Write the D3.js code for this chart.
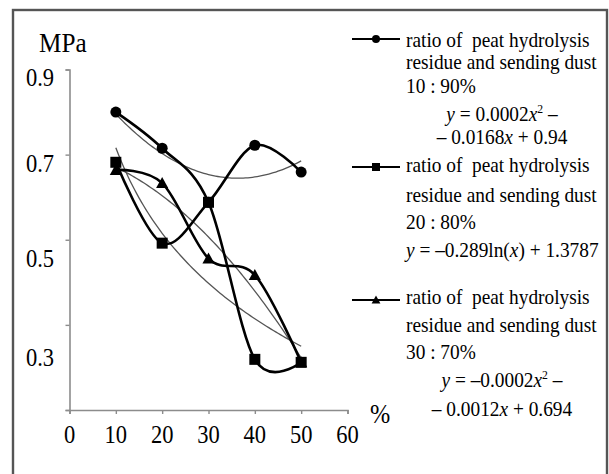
<!DOCTYPE html>
<html>
<head>
<meta charset="utf-8">
<script src="https://cdn.jsdelivr.net/npm/d3@7"></script>
<style>
  html, body { margin: 0; padding: 0; background: #fff; }
</style>
</head>
<body>
<svg id="chart" width="609" height="474"></svg>
<script>
// Share of peat hydrolysis residue in the mix, %
const percent = [10, 20, 30, 40, 50];

// Strength, MPa, for each residue : sending dust ratio
const ratio10to90 = [0.800, 0.715, 0.588, 0.722, 0.659];
const ratio20to80 = [0.682, 0.492, 0.588, 0.219, 0.212];
const ratio30to70 = [0.664, 0.633, 0.456, 0.417, 0.212];

const seriesValues = [ratio10to90, ratio20to80, ratio30to70];
const seriesMarkers = ["circle", "square", "triangle"];

// The 10:90 and 20:80 curves meet at 30 % and carry on to each other's points
const curveRoutes = [
  [0, 0, 0, 1, 1],
  [1, 1, 1, 0, 0],
  [2, 2, 2, 2, 2]
];

const yTicks = [0.1, 0.3, 0.5, 0.7, 0.9];
const yTickLabels = ["0.9", "0.7", "0.5", "0.3"];
const xTicks = [0, 10, 20, 30, 40, 50, 60];

const legendTitles = [
  ["ratio of  peat hydrolysis", "residue and sending dust", "10 : 90%"],
  ["ratio of  peat hydrolysis", "residue and sending dust", "20 : 80%"],
  ["ratio of  peat hydrolysis", "residue and sending dust", "30 : 70%"]
];
// Trend equations; "i" = italic, "s" = superscript
const legendEquations = [
  [[["y", "i"], [" = 0.0002"], ["x", "i"], ["2", "s"], [" –"]],
   [["– 0.0168"], ["x", "i"], [" + 0.94"]]],
  [[["y", "i"], [" = –0.289ln("], ["x", "i"], [") + 1.3787"]]],
  [[["y", "i"], [" = –0.0002"], ["x", "i"], ["2", "s"], [" –"]],
   [["– 0.0012"], ["x", "i"], [" + 0.694"]]]
];

const FONT = "'Liberation Serif', 'Times New Roman', serif";
const NARROW = 0.9; // horizontal squeeze of the serif type
const svg = d3.select("#chart");

// frame
svg.append("rect")
  .attr("x", 13).attr("y", 10).attr("width", 594).attr("height", 520)
  .attr("fill", "none").attr("stroke", "#555").attr("stroke-width", 2.4);

const x = d3.scaleLinear().domain([0, 60]).range([69.5, 347.5]);
const y = d3.scaleLinear().domain([0.1, 0.9]).range([410, 69.5]);

// axes
const axisColor = "#8c8c8c";
const gx = svg.append("g").attr("transform", `translate(0,${y(0.1)})`)
  .call(d3.axisBottom(x).tickValues(xTicks).tickSize(4).tickFormat(""));
const gy = svg.append("g").attr("transform", `translate(${x(0)},0)`)
  .call(d3.axisLeft(y).tickValues(yTicks).tickSize(4).tickFormat(""));
[gx, gy].forEach(g => {
  g.select(".domain").attr("stroke", axisColor).attr("stroke-width", 1.6);
  g.selectAll(".tick line").attr("stroke", axisColor).attr("stroke-width", 1.4);
});

// text placed at (tx, ty) with narrowed glyphs
function addText(parent, tx, ty, size, anchor) {
  return parent.append("text")
    .attr("transform", `translate(${tx},${ty}) scale(${NARROW},1)`)
    .attr("font-family", FONT).attr("font-size", size)
    .attr("text-anchor", anchor || "start")
    .attr("fill", "#000").style("white-space", "pre");
}

const xLab = svg.append("g");
xTicks.forEach(d => addText(xLab, x(d), 443, 25, "middle").text(d));

// tick labels sit on their own, slightly stretched scale
const labelY = d3.scalePow().exponent(1.075).domain([0, 0.6]).range([86, 366]);
const yLab = svg.append("g");
yTickLabels.forEach(d => addText(yLab, 54, labelY(0.9 - +d), 25, "end").text(d));

addText(svg, 39, 52, 28).text("MPa");
addText(svg, 380, 423, 27, "middle").text("%");

// least-squares trend fits
function quadFit(xs, ys) {
  const n = xs.length;
  const S = k => d3.sum(xs, v => Math.pow(v, k));
  const T = k => d3.sum(xs, (v, i) => Math.pow(v, k) * ys[i]);
  const A = [[n, S(1), S(2)], [S(1), S(2), S(3)], [S(2), S(3), S(4)]];
  const b = [T(0), T(1), T(2)];
  for (let c = 0; c < 3; c++) {
    for (let r = c + 1; r < 3; r++) {
      const f = A[r][c] / A[c][c];
      for (let k = c; k < 3; k++) A[r][k] -= f * A[c][k];
      b[r] -= f * b[c];
    }
  }
  const coef = [0, 0, 0];
  for (let r = 2; r >= 0; r--) {
    let s = b[r];
    for (let k = r + 1; k < 3; k++) s -= A[r][k] * coef[k];
    coef[r] = s / A[r][r];
  }
  return v => coef[0] + coef[1] * v + coef[2] * v * v;
}
function logFit(xs, ys) {
  const lx = xs.map(Math.log);
  const mx = d3.mean(lx), my = d3.mean(ys);
  const slope = d3.sum(lx, (v, i) => (v - mx) * (ys[i] - my)) / d3.sum(lx, v => (v - mx) ** 2);
  const icpt = my - slope * mx;
  return v => icpt + slope * Math.log(v);
}

const trends = [quadFit(percent, ratio10to90), logFit(percent, ratio20to80), quadFit(percent, ratio30to70)];
const xs = d3.range(10, 50.01, 0.5);
const trendLine = d3.line().x(d => x(d[0])).y(d => y(d[1]));
svg.append("g").selectAll("path").data(trends).join("path")
  .attr("d", f => trendLine(xs.map(v => [v, f(v)])))
  .attr("fill", "none").attr("stroke", "#555").attr("stroke-width", 1.3);

// smoothed data curves
const smooth = d3.line().x(d => x(d[0])).y(d => y(d[1])).curve(d3.curveCatmullRom.alpha(0));
svg.append("g").selectAll("path").data(curveRoutes).join("path")
  .attr("d", route => smooth(route.map((s, i) => [percent[i], seriesValues[s][i]])))
  .attr("fill", "none").attr("stroke", "#000").attr("stroke-width", 2.6);

// markers
function marker(g, type, size) {
  if (type === "circle") g.append("circle").attr("r", size / 2);
  else if (type === "square") g.append("rect").attr("x", -size / 2).attr("y", -size / 2).attr("width", size).attr("height", size);
  else g.append("path").attr("d", `M0,${-size * 0.55}L${size * 0.55},${size * 0.45}L${-size * 0.55},${size * 0.45}Z`);
  g.attr("fill", "#000");
}
// last series first, so circles and squares stay on top
[2, 1, 0].forEach(s => {
  seriesValues[s].forEach((v, i) => {
    const g = svg.append("g").attr("transform", `translate(${x(percent[i])},${y(v)})`);
    marker(g, seriesMarkers[s], 11);
  });
});

// legend
const legendLayout = [
  { line: 39, rows: [47, 69, 93], eq: [121, 144] },
  { line: 167, rows: [172, 202, 229], eq: [257] },
  { line: 300, rows: [304, 332, 359], eq: [387, 416] }
];
const eqAnchor = [["middle", 502], ["start", 406], ["middle", 502]];

legendLayout.forEach((L, k) => {
  const lg = svg.append("g");
  lg.append("line").attr("x1", 352).attr("x2", 400).attr("y1", L.line).attr("y2", L.line)
    .attr("stroke", "#000").attr("stroke-width", 2.2);
  marker(lg.append("g").attr("transform", `translate(376,${L.line})`), seriesMarkers[k], 8);
  legendTitles[k].forEach((t, r) => addText(lg, 406, L.rows[r], 21.5).text(t));
  legendEquations[k].forEach((parts, r) => {
    const tx = addText(lg, eqAnchor[k][1], L.eq[r], 21.5, eqAnchor[k][0]);
    parts.forEach(([s, style]) => {
      const sp = tx.append("tspan").text(s);
      if (style === "i") sp.attr("font-style", "italic");
      if (style === "s") sp.attr("font-size", 13).attr("baseline-shift", "8");
    });
  });
});
</script>
</body>
</html>
